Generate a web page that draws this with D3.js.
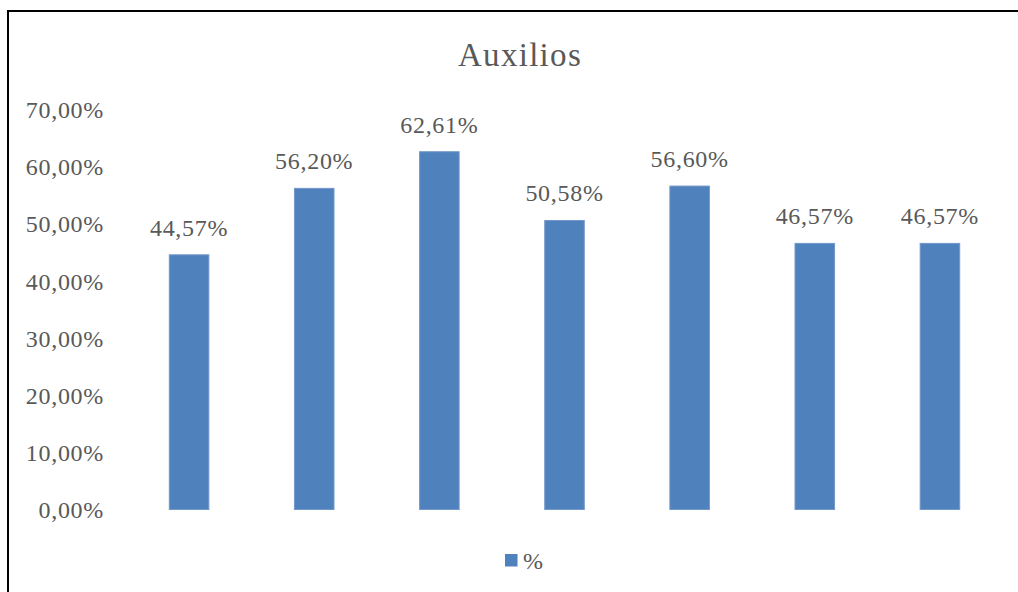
<!DOCTYPE html>
<html>
<head>
<meta charset="utf-8">
<script src="https://cdn.jsdelivr.net/npm/d3@7"></script>
<style>
  html, body { margin: 0; padding: 0; background: #fff; }
  svg { display: block; }
  text { font-family: "Liberation Serif", "DejaVu Serif", serif; fill: #595959; }
</style>
</head>
<body>
<div id="chart"></div>
<script>
// Share of "Auxilios" per group
const categories = ["1", "2", "3", "4", "5", "6", "7"];
const values = [0.4457, 0.5620, 0.6261, 0.5058, 0.5660, 0.4657, 0.4657];
const yTicks = [0, 0.1, 0.2, 0.3, 0.4, 0.5, 0.6, 0.7];
const seriesName = "%";
const chartTitle = "Auxilios";

const W = 1018, H = 592;
const barColor = "#4F81BD";

const fmt = v => (v * 100).toFixed(2).replace(".", ",") + "%";

const svg = d3.select("#chart").append("svg")
  .attr("width", W).attr("height", H);

svg.append("rect").attr("width", W).attr("height", H).attr("fill", "#fff");

// outer frame
svg.append("rect")
  .attr("x", 8).attr("y", 11)
  .attr("width", W + 20).attr("height", H + 20)
  .attr("fill", "none").attr("stroke", "#000").attr("stroke-width", 2);

const x = d3.scaleBand().domain(categories).range([126.5, 1002.5]).padding(0);
const y = d3.scaleLinear().domain([0, 0.7]).range([509.5, 109.5]);
const barW = x.bandwidth() * 0.316;

// title
svg.append("text")
  .attr("x", 520).attr("y", 66)
  .attr("text-anchor", "middle")
  .style("font-size", "33px")
  .style("letter-spacing", "1.3px")
  .text(chartTitle);

// y axis labels (no line, no gridlines)
const yAxis = d3.axisLeft(y).tickValues(yTicks).tickFormat(fmt).tickSize(0).tickPadding(0);
const gy = svg.append("g").attr("transform", "translate(104,0)").call(yAxis);
gy.select(".domain").remove();
gy.selectAll("text")
  .style("font-size", "24px")
  .style("letter-spacing", "0.7px")
  .style("font-family", null)
  .attr("fill", null)
  .attr("dy", "0.34em");

// bars
svg.append("g").selectAll("rect")
  .data(values)
  .join("rect")
  .attr("x", (d, i) => x(categories[i]) + x.bandwidth() / 2 - barW / 2)
  .attr("y", d => y(d))
  .attr("width", barW)
  .attr("height", d => y(0) - y(d))
  .attr("fill", barColor)
  .attr("stroke", "#7398C9")
  .attr("stroke-width", 1);

// value labels
svg.append("g").selectAll("text")
  .data(values)
  .join("text")
  .attr("x", (d, i) => x(categories[i]) + x.bandwidth() / 2)
  .attr("y", d => y(d) - 19)
  .attr("text-anchor", "middle")
  .style("font-size", "24px")
  .style("letter-spacing", "0.7px")
  .text(fmt);

// legend
const lg = svg.append("g");
lg.append("rect")
  .attr("x", 505).attr("y", 554)
  .attr("width", 12.5).attr("height", 12.5)
  .attr("fill", barColor);
lg.append("text")
  .attr("x", 523).attr("y", 569)
  .style("font-size", "24px")
  .text(seriesName);
</script>
</body>
</html>
